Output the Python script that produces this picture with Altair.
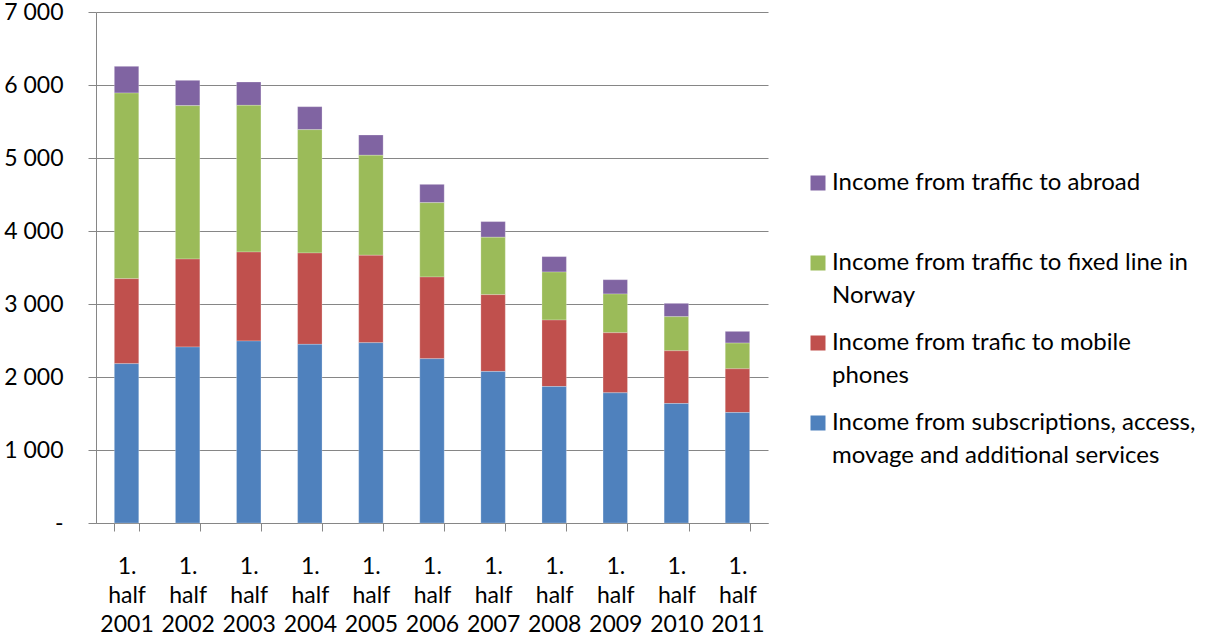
import altair as alt
import pandas as pd

# Half-year income figures, stacked from the bottom series upward
periods = ["1. half 2001", "1. half 2002", "1. half 2003", "1. half 2004",
           "1. half 2005", "1. half 2006", "1. half 2007", "1. half 2008",
           "1. half 2009", "1. half 2010", "1. half 2011"]
subscriptions = [2183, 2411, 2493, 2447, 2470, 2251, 2076, 1870, 1783, 1637, 1513]
mobile = [1164, 1205, 1219, 1252, 1197, 1119, 1052, 910, 823, 722, 599]
fixed_line = [2543, 2101, 2009, 1689, 1370, 1018, 786, 658, 531, 467, 353]
abroad = [366, 347, 320, 315, 278, 251, 215, 211, 196, 183, 160]

series_names = [
    "Income from traffic to abroad",
    "Income from traffic to fixed line in Norway",
    "Income from trafic to mobile phones",
    "Income from subscriptions, access, movage and additional services",
]
series_colors = ["#8064A2", "#9BBB59", "#C0504D", "#4F81BD"]
series_values = [abroad, fixed_line, mobile, subscriptions]
stack_rank = [3, 2, 1, 0]

rows = []
for name, vals, rank in zip(series_names, series_values, stack_rank):
    for p, v in zip(periods, vals):
        rows.append({"period": p, "series": name, "value": v, "rank": rank})
df = pd.DataFrame(rows)

FONT = "Lato"
GRID = "#868686"

legend_label = (
    "datum.label == 'Income from traffic to abroad' ? ['Income from traffic to abroad', ''] : "
    "datum.label == 'Income from traffic to fixed line in Norway' ? ['Income from traffic to fixed line in', 'Norway'] : "
    "datum.label == 'Income from trafic to mobile phones' ? ['Income from trafic to mobile', 'phones'] : "
    "['Income from subscriptions, access,', 'movage and additional services']"
)

chart = alt.Chart(df).mark_bar(stroke="#ffffff", strokeWidth=0.4, strokeOpacity=0.6).encode(
    x=alt.X("period:N", sort=periods, title=None,
            scale=alt.Scale(paddingInner=0.6, paddingOuter=0.3),
            axis=alt.Axis(labelAngle=0,
                          labelExpr="isValid(datum.value) ? split(datum.value, ' ') : ''",
                          labelFont=FONT, labelFontSize=23, labelColor="#000000",
                          labelLineHeight=29, labelPadding=24,
                          tickBand="extent", tickSize=8, tickColor=GRID, tickWidth=1,
                          domainColor=GRID, domainWidth=1, grid=False)),
    y=alt.Y("value:Q", stack="zero", title=None,
            scale=alt.Scale(domain=[0, 7000], nice=False),
            axis=alt.Axis(values=[0, 1000, 2000, 3000, 4000, 5000, 6000, 7000],
                          labelExpr="datum.value == 0 ? '-\u00a0\u00a0\u00a0' : replace(format(datum.value, ','), ',', ' ')",
                          labelFont=FONT, labelFontSize=23, labelColor="#000000",
                          labelPadding=25, tickSize=8, tickColor=GRID, tickWidth=1,
                          domainColor=GRID, domainWidth=1,
                          grid=True, gridColor=GRID, gridWidth=1)),
    color=alt.Color("series:N", scale=alt.Scale(domain=series_names, range=series_colors),
                    legend=alt.Legend(title=None, orient="none", legendX=710, legendY=159,
                                      labelExpr=legend_label, labelFont=FONT, labelFontSize=24,
                                      labelColor="#000000", labelLimit=500,
                                      labelOffset=2, symbolType="square", symbolSize=225,
                                      symbolStrokeWidth=0, symbolOpacity=1, rowPadding=23,
                                      padding=0)),
    order=alt.Order("rank:Q", sort="ascending"),
).properties(
    width=672, height=511,
    autosize=alt.AutoSizeParams(type="none"),
    padding={"left": 96, "top": 12, "right": 440, "bottom": 112},
).configure(
    background="#ffffff",
    view=alt.ViewConfig(strokeWidth=0),
    style={"guide-label": {"lineHeight": 33}},
)

chart.save("out.html", embed_options={"renderer": "svg", "actions": False})
